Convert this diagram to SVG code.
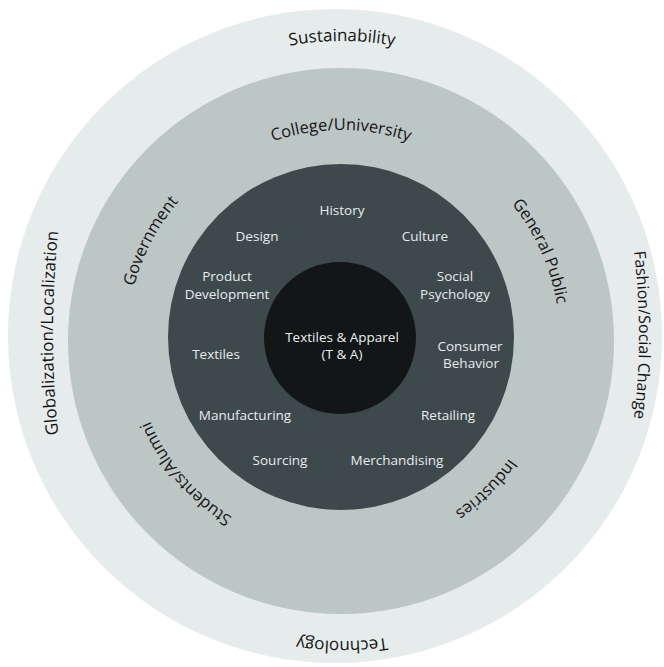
<svg xmlns="http://www.w3.org/2000/svg" width="664" height="667" viewBox="0 0 664 667">
<style>
.lbl{font-family:"Open Sans","Noto Sans","DejaVu Sans",sans-serif;}
.outer{font-size:17px;fill:#151515;text-anchor:middle;}
.mid{font-size:16.5px;fill:#151515;text-anchor:middle;}
.inner{font-size:13.5px;fill:#e8ebec;text-anchor:middle;}
.core{font-size:13.5px;fill:#eceeef;text-anchor:middle;}
</style>
<defs>
<path id="pSus" d="M48.53,287.25 A298,298 0 0 1 635.47,287.25"/>
<path id="pTec" d="M44.58,286.56 A302,302 0 0 1 639.42,286.56"/>
<path id="pGlo" d="M87.1,591.8 A1000,1000 0 0 1 87.1,74.2"/>
<path id="pFas" d="M623.7,189.5 A700,700 0 0 1 623.7,480.5"/>
<path id="pCol" d="M133.21,304.36 A211,211 0 0 1 548.79,304.36"/>
<path id="pGov" d="M130.25,303.84 A214,214 0 0 1 551.75,303.84"/>
<path id="pGen" d="M125.33,302.97 A219,219 0 0 1 556.67,302.97"/>
<path id="pStu" d="M137.14,305.05 A207,207 0 0 1 544.86,305.05"/>
<path id="pInd" d="M139.11,305.4 A205,205 0 0 1 542.89,305.4"/>
</defs>
<rect width="664" height="667" fill="#ffffff"/>
<g id="outer-ring">
<circle cx="335" cy="336" r="327" fill="#e6ebeb"/>
<text class="lbl outer"><textPath href="#pSus" startOffset="50%">Sustainability</textPath></text>
<text class="lbl outer" transform="rotate(180 342 339)"><textPath href="#pTec" startOffset="50%">Technology</textPath></text>
<text class="lbl outer"><textPath href="#pGlo" startOffset="50%">Globalization/Localization</textPath></text>
<text class="lbl outer" style="font-size:16px"><textPath href="#pFas" startOffset="50%">Fashion/Social Change</textPath></text>
</g>
<g id="middle-ring">
<circle cx="341" cy="341" r="273" fill="#bcc6c5"/>
<text class="lbl mid"><textPath href="#pCol" startOffset="50%">College/University</textPath></text>
<text class="lbl mid" transform="rotate(-62.3 341 341)"><textPath href="#pGov" startOffset="50%">Government</textPath></text>
<text class="lbl mid" transform="rotate(65.8 341 341)"><textPath href="#pGen" startOffset="50%">General Public</textPath></text>
<text class="lbl mid" transform="rotate(229.5 341 341)"><textPath href="#pStu" startOffset="50%">Students/Alumni</textPath></text>
<text class="lbl mid" transform="rotate(135.6 341 341)"><textPath href="#pInd" startOffset="50%">Industries</textPath></text>
</g>
<g id="inner-ring">
<circle cx="341" cy="337" r="173" fill="#3e494c"/>
<text class="lbl inner" x="342" y="215">History</text>
<text class="lbl inner" x="257" y="241">Design</text>
<text class="lbl inner" x="425" y="241">Culture</text>
<text class="lbl inner" x="227" y="281">Product</text>
<text class="lbl inner" x="227" y="299">Development</text>
<text class="lbl inner" x="455" y="281">Social</text>
<text class="lbl inner" x="455" y="299">Psychology</text>
<text class="lbl inner" x="216" y="359">Textiles</text>
<text class="lbl inner" x="470" y="350.5">Consumer</text>
<text class="lbl inner" x="471" y="368">Behavior</text>
<text class="lbl inner" x="245" y="420">Manufacturing</text>
<text class="lbl inner" x="448" y="420">Retailing</text>
<text class="lbl inner" x="280" y="465">Sourcing</text>
<text class="lbl inner" x="397" y="465">Merchandising</text>
</g>
<g id="core">
<circle cx="340" cy="338" r="76" fill="#121617"/>
<text class="lbl core" x="342" y="341.5">Textiles &amp; Apparel</text>
<text class="lbl core" x="342" y="359">(T &amp; A)</text>
</g>
</svg>
